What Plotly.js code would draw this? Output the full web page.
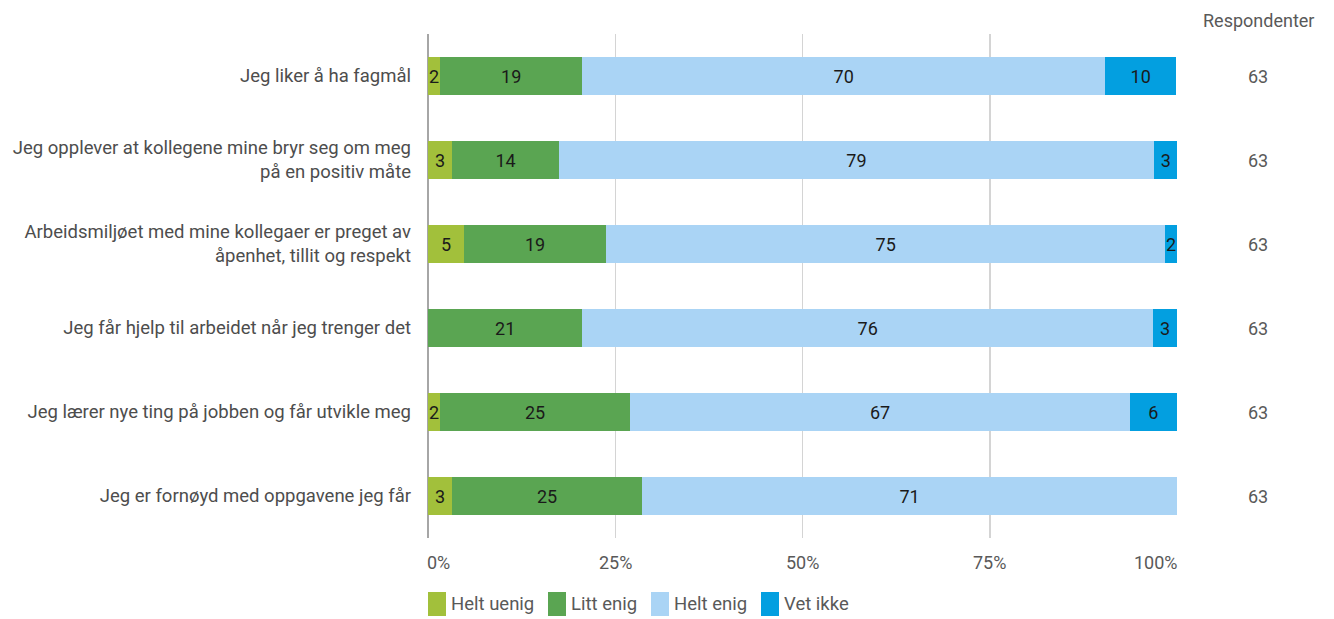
<!DOCTYPE html>
<html><head><meta charset="utf-8">
<script src="https://cdn.plot.ly/plotly-3.0.1.min.js"></script>
<style>html,body{margin:0;padding:0;background:#fff;}#chart{width:1334px;height:619px;}</style>
</head><body><div id="chart"></div>
<script>
const categories = [
  "Jeg liker å ha fagmål",
  "Jeg opplever at kollegene mine bryr seg om meg<br>på en positiv måte",
  "Arbeidsmiljøet med mine kollegaer er preget av<br>åpenhet, tillit og respekt",
  "Jeg får hjelp til arbeidet når jeg trenger det",
  "Jeg lærer nye ting på jobben og får utvikle meg",
  "Jeg er fornøyd med oppgavene jeg får"
];
const seriesNames = ["Helt uenig", "Litt enig", "Helt enig", "Vet ikke"];
const heltUenig = [1.6, 3.2, 4.8, 0, 1.6, 3.2];
const littEnig  = [19.0, 14.3, 19.0, 20.6, 25.4, 25.4];
const heltEnig  = [69.8, 79.4, 74.6, 76.2, 66.7, 71.4];
const vetIkke   = [9.5, 3.2, 1.6, 3.2, 6.3, 0];
const respondenter = [63, 63, 63, 63, 63, 63];
const tickVals = [0, 25, 50, 75, 100];
const tickLabels = ["0%", "25%", "50%", "75%", "100%"];
const colors = ["#a2c03b", "#5aa552", "#aad4f5", "#039fe0"];

const FONT = "Roboto, 'Open Sans', sans-serif";
const W = 1334, H = 619;
const M = {l: 428, r: 157, t: 34, b: 81};
const PW = W - M.l - M.r, PH = H - M.t - M.b;
const px2x = p => (p - M.l) / PW;
const py2y = p => (H - M.b - p) / PH;

const ids = categories.map((c, i) => "c" + i);
const series = [heltUenig, littEnig, heltEnig, vetIkke];
const traces = series.map((vals, k) => ({
  type: "bar",
  orientation: "h",
  name: seriesNames[k],
  y: ids,
  x: vals,
  marker: {color: colors[k], line: {width: 0}},
  text: vals.map(v => v > 0 ? String(Math.round(v)) : ""),
  textposition: "inside",
  insidetextanchor: "middle",
  textfont: {family: FONT, size: 18, color: "#1a1a1a"},
  hoverinfo: "none"
}));

const annotations = [];
const shapes = [];
annotations.push({xref: "paper", yref: "paper", x: px2x(1258), y: py2y(20), text: "Respondenter",
  showarrow: false, xanchor: "center", yanchor: "middle", font: {family: FONT, size: 18, color: "#595959"}});
ids.forEach((id, i) => {
  annotations.push({xref: "paper", yref: "y", x: px2x(1258), y: id, text: String(respondenter[i]),
    showarrow: false, xanchor: "center", yanchor: "middle", font: {family: FONT, size: 18, color: "#595959"}});
});
tickVals.forEach((v, i) => {
  annotations.push({xref: "x", yref: "paper", x: v, y: py2y(562), text: tickLabels[i], showarrow: false,
    xanchor: i === 0 ? "left" : (i === tickVals.length - 1 ? "right" : "center"), yanchor: "middle",
    xshift: i === 0 ? -3 : (i === tickVals.length - 1 ? 3 : 0),
    font: {family: FONT, size: 18, color: "#595959"}});
});
// manual legend
const legendSym = [428, 548, 651, 761];
seriesNames.forEach((n, k) => {
  const x0 = legendSym[k];
  shapes.push({type: "rect", xref: "paper", yref: "paper", x0: px2x(x0), x1: px2x(x0 + 18),
    y0: py2y(616), y1: py2y(592), fillcolor: colors[k], line: {width: 0}, layer: "above"});
  annotations.push({xref: "paper", yref: "paper", x: px2x(x0 + 21), y: py2y(604), text: n,
    showarrow: false, xanchor: "left", yanchor: "middle", font: {family: FONT, size: 18.5, color: "#595959"}});
});

const layout = {
  width: W, height: H,
  margin: M,
  barmode: "stack",
  bargap: 0.55,
  paper_bgcolor: "#fff", plot_bgcolor: "#fff",
  font: {family: FONT, color: "#595959"},
  uniformtext: {mode: "show", minsize: 18},
  showlegend: false,
  xaxis: {range: [0, 100], tickvals: tickVals, showticklabels: false, showgrid: true,
    gridcolor: "#d4d4d4", gridwidth: 1.5, zeroline: true, zerolinecolor: "#a6a6a6", zerolinewidth: 2,
    showline: false, fixedrange: true},
  yaxis: {type: "category", autorange: "reversed", tickvals: ids, ticktext: categories,
    ticks: "", ticklen: 0, ticklabelstandoff: 16, showgrid: false, zeroline: false, showline: false,
    tickfont: {family: FONT, size: 18.5, color: "#4d4d4d"}, automargin: false, fixedrange: true},
  shapes: shapes,
  annotations: annotations
};
Plotly.newPlot("chart", traces, layout, {displayModeBar: false, staticPlot: true});
</script></body></html>
